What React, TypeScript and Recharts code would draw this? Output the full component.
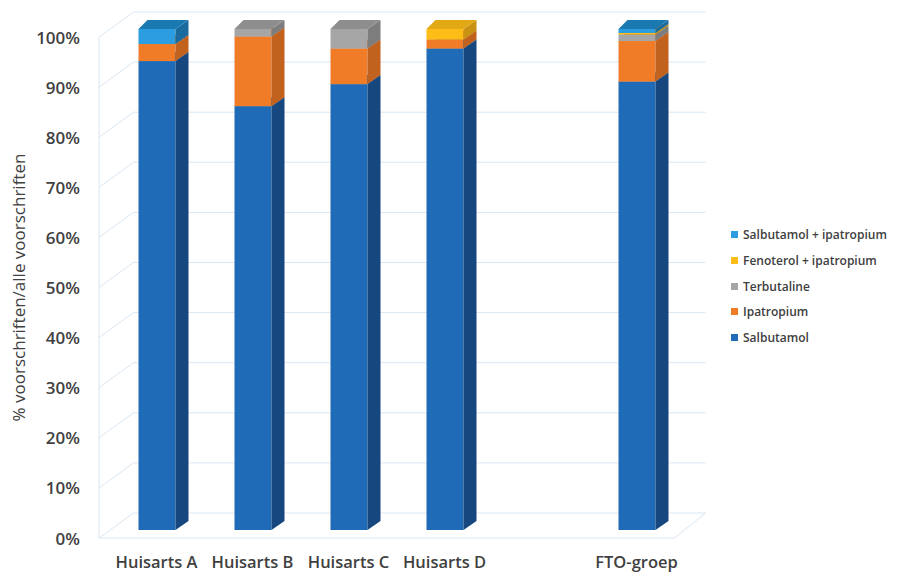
import { BarChart, Bar, XAxis, YAxis, CartesianGrid } from 'recharts';

const categories = ['Huisarts A', 'Huisarts B', 'Huisarts C', 'Huisarts D', '', 'FTO-groep'];
const salbutamol = [93.6, 84.6, 89.0, 96.1, 0, 89.5];
const ipatropium = [3.4, 13.9, 7.1, 1.8, 0, 8.1];
const terbutaline = [0, 1.5, 3.9, 0, 0, 1.3];
const fenoterol = [0, 0, 0, 2.1, 0, 0.3];
const salbIpatropium = [3.0, 0, 0, 0, 0, 0.8];
const yTicks = [0, 10, 20, 30, 40, 50, 60, 70, 80, 90, 100];

const data = categories.map((name, i) => ({
  name,
  salbutamol: salbutamol[i],
  ipatropium: ipatropium[i],
  terbutaline: terbutaline[i],
  fenoterol: fenoterol[i],
  salbIpatropium: salbIpatropium[i],
}));

// stacking order bottom -> top; legend lists them top -> bottom
const series = [
  { key: 'salbutamol', name: 'Salbutamol', front: '#1f6bb7', side: '#16487f', top: '#1a5c9f' },
  { key: 'ipatropium', name: 'Ipatropium', front: '#f07c27', side: '#c1621f', top: '#d96e22' },
  { key: 'terbutaline', name: 'Terbutaline', front: '#a6a6a6', side: '#7d7d7d', top: '#8e8e8e' },
  { key: 'fenoterol', name: 'Fenoterol + ipatropium', front: '#fdbd16', side: '#c99212', top: '#e2a915' },
  { key: 'salbIpatropium', name: 'Salbutamol + ipatropium', front: '#2b9de0', side: '#1a6c9e', top: '#1b79b2' },
];

const FONT = '"Open Sans", sans-serif';
const TEXT = '#404040';
const GRID = '#d8e7f4';

// pseudo-3D offsets
const DX_L = 9;
const DX_R = 13;
const DY = 9;
const FRONT_DY = 8; // front wall plane below the bar plane
const BACK_DY = 17; // back wall plane above the bar plane

const bar3d = (front: string, side: string, top: string) => (props: any) => {
  const { x, y, width, height } = props;
  if (!height || height <= 0) return <g />;
  const r = x + width;
  const b = y + height;
  return (
    <g>
      <rect x={x} y={y} width={width} height={height} fill={front} />
      <polygon points={`${r},${y} ${r + DX_R},${y - DY} ${r + DX_R},${b - DY} ${r},${b}`} fill={side} />
      <polygon points={`${x},${y} ${x + DX_L},${y - DY} ${r + DX_R},${y - DY} ${r},${y}`} fill={top} />
    </g>
  );
};

const wallLine = (props: any) => {
  const { x1, x2, y1, index } = props;
  const fy = y1 + FRONT_DY;
  const by = y1 - BACK_DY;
  const left = x1 - 9.5;
  const bottom = typeof props.y === 'number' && typeof props.height === 'number' ? props.y + props.height : null;
  const isFloor = bottom !== null && Math.abs(bottom - y1) < 0.5;
  return (
    <g key={`wall-${index}`}>
      <path d={`M${left},${fy} L${x1 + 25},${by} L${x2 + 21},${by}`} stroke={GRID} strokeWidth={1} fill="none" />
      {isFloor && (
        <path
          d={`M${left},${props.y + FRONT_DY} L${left},${fy} L${x2 - 10},${fy} L${x2 + 21},${by}`}
          stroke={GRID}
          strokeWidth={1}
          fill="none"
        />
      )}
    </g>
  );
};

const YTick = ({ y, payload }: any) => (
  <text x={80} y={y + FRONT_DY} textAnchor="end" dominantBaseline="central" fontFamily={FONT} fontSize={17} fontWeight={600} fill={TEXT}>
    {payload.value}%
  </text>
);

const XTick = ({ x, y, payload }: any) => (
  <text x={x} y={y + 29} textAnchor="middle" dominantBaseline="central" fontFamily={FONT} fontSize={16.5} fontWeight={600} fill={TEXT}>
    {payload.value}
  </text>
);

const YTitle = ({ viewBox }: any) => {
  const cy = viewBox.y + viewBox.height / 2 + FRONT_DY;
  return (
    <text transform={`translate(18,${cy}) rotate(-90)`} textAnchor="middle" dominantBaseline="central" fontFamily={FONT} fontSize={17} fill={TEXT}>
      % voorschriften/alle voorschriften
    </text>
  );
};

export default function App() {
  return (
    <div style={{ position: 'absolute', left: 0, top: 0, width: 897, height: 574, background: '#fff' }}>
      <BarChart width={897} height={574} data={data} margin={{ top: 29, right: 212.5, bottom: 0, left: 0 }}>
        <CartesianGrid vertical={false} horizontal={wallLine} />
        <XAxis dataKey="name" height={44} axisLine={false} tickLine={false} tickSize={0} tick={<XTick />} interval={0} />
        <YAxis
          width={108.5}
          domain={[0, 100]}
          ticks={yTicks}
          axisLine={false}
          tickLine={false}
          tick={<YTick />}
          label={{ content: <YTitle /> }}
        />
        {series.map((s) => (
          <Bar
            key={s.key}
            dataKey={s.key}
            name={s.name}
            stackId="a"
            barSize={37}
            fill={s.front}
            shape={bar3d(s.front, s.side, s.top)}
            isAnimationActive={false}
          />
        ))}
      </BarChart>
      <div style={{ position: 'absolute', left: 731, top: 222, fontFamily: FONT, fontSize: 12, fontWeight: 600, color: TEXT }}>
        {[...series].reverse().map((s) => (
          <div key={s.key} style={{ display: 'flex', alignItems: 'center', height: 25.7, whiteSpace: 'nowrap' }}>
            <span style={{ width: 7, height: 7, background: s.front, marginRight: 5, display: 'inline-block' }} />
            {s.name}
          </div>
        ))}
      </div>
    </div>
  );
}
